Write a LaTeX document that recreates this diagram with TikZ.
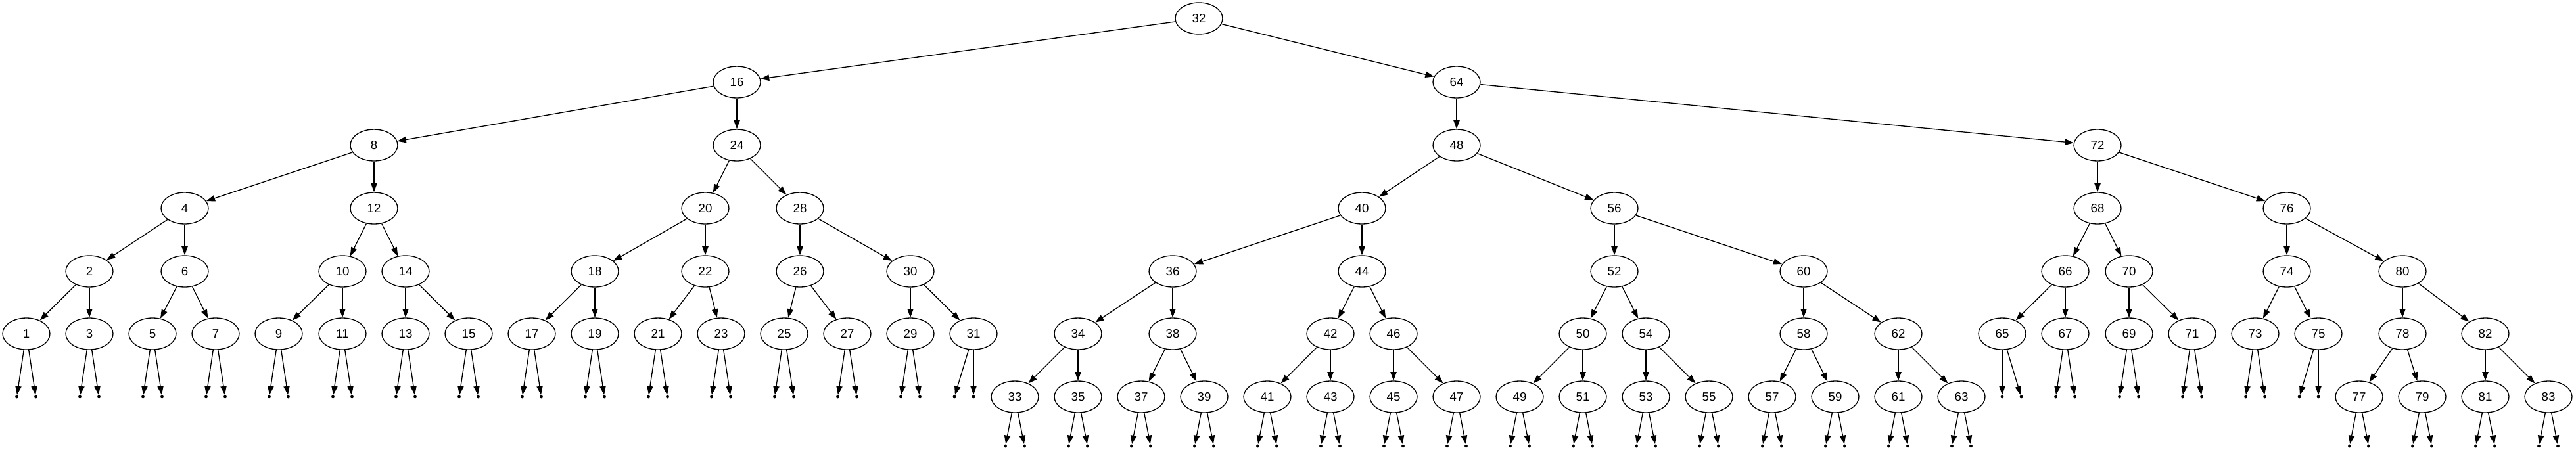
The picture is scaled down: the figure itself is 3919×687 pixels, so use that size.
\documentclass[tikz,border=0pt]{standalone}
\usepackage{fontspec}
\setmainfont{Liberation Sans}
\usepackage{tikz}
\usetikzlibrary{shapes.geometric,arrows.meta}

\begin{document}
\begin{tikzpicture}[x=0.75pt,y=-0.75pt,>={Triangle[length=10pt,width=7pt]},line width=1pt]
  \tikzstyle{key}=[ellipse,draw,minimum width=54pt,minimum height=36pt,
  inner sep=0pt,font=\fontsize{14pt}{16pt}\selectfont]
  \tikzstyle{null}=[circle,fill,inner sep=0pt,minimum size=3.6pt]
  \useasboundingbox (0,0) rectangle (3919,687);

  % keys, one rank per loop
  \foreach \k/\x in {32/1824}
    \node [key] (k\k) at (\x,28) {\k};
  \foreach \k/\x in {16/1121,64/2216}
    \node [key] (k\k) at (\x,125) {\k};
  \foreach \k/\x in {8/569,24/1121,48/2216,72/3191}
    \node [key] (k\k) at (\x,221) {\k};
  \foreach \k/\x in {4/281,12/569,20/1073,28/1217,40/2072,56/2456,68/3191,76/3479}
    \node [key] (k\k) at (\x,317) {\k};
  \foreach \k/\x in {2/136,6/281,10/521,14/617,18/905,22/1073,26/1217,30/1385,
    36/1784,44/2072,52/2456,60/2744,66/3142,70/3239,74/3479,80/3655}
    \node [key] (k\k) at (\x,413) {\k};
  \foreach \k/\x in {1/40,3/136,5/232,7/328,9/424,11/521,13/617,15/713,17/809,19/905,
    21/1001,23/1097,25/1193,27/1289,29/1385,31/1481,34/1640,38/1784,42/2024,46/2120,
    50/2408,54/2504,58/2744,62/2888,65/3046,67/3142,69/3239,71/3335,73/3431,75/3527,
    78/3655,82/3781}
    \node [key] (k\k) at (\x,508) {\k};
  \foreach \k/\x in {33/1544,35/1640,37/1736,39/1832,41/1928,43/2024,45/2120,47/2216,
    49/2312,51/2408,53/2504,55/2600,57/2696,59/2792,61/2888,63/2984,
    77/3589,79/3685,81/3781,83/3877}
    \node [key] (k\k) at (\x,604) {\k};

  % parent -> child
  \foreach \p/\c in {32/16,32/64,16/8,16/24,64/48,64/72,
    8/4,8/12,24/20,24/28,48/40,48/56,72/68,72/76,
    4/2,4/6,12/10,12/14,20/18,20/22,28/26,28/30,40/36,40/44,56/52,56/60,
    68/66,68/70,76/74,76/80,
    2/1,2/3,6/5,6/7,10/9,10/11,14/13,14/15,18/17,18/19,22/21,22/23,
    26/25,26/27,30/29,30/31,36/34,36/38,44/42,44/46,52/50,52/54,60/58,60/62,
    66/65,66/67,70/69,70/71,74/73,74/75,80/78,80/82,
    34/33,34/35,38/37,38/39,42/41,42/43,46/45,46/47,50/49,50/51,54/53,54/55,
    58/57,58/59,62/61,62/63,78/77,78/79,82/81,82/83}
    \draw [->] (k\p) to (k\c);

  % empty children as points
  \foreach \k/\l/\r/\d in {1/-14.5/14.5/96,3/-14.5/14.5/96,5/-14.5/14.5/96,
    7/-14.5/14.5/96,9/-14.5/14.5/96,11/-14.5/14.5/96,13/-14.5/14.5/96,
    15/-14.5/14.5/96,17/-14.5/14.5/96,19/-14.5/14.5/96,21/-14.5/14.5/96,
    23/-14.5/14.5/96,25/-14.5/14.5/96,27/-14.5/14.5/96,29/-14.5/14.5/96,
    31/-29/0/96,65/0/29/96,67/-14.5/14.5/96,69/-14.5/14.5/96,71/-14.5/14.5/96,
    73/-14.5/14.5/96,75/-29/0/96,
    33/-14.5/14.5/75,35/-14.5/14.5/75,37/-14.5/14.5/75,39/-14.5/14.5/75,
    41/-14.5/14.5/75,43/-14.5/14.5/75,45/-14.5/14.5/75,47/-14.5/14.5/75,
    49/-14.5/14.5/75,51/-14.5/14.5/75,53/-14.5/14.5/75,55/-14.5/14.5/75,
    57/-14.5/14.5/75,59/-14.5/14.5/75,61/-14.5/14.5/75,63/-14.5/14.5/75,
    77/-14.5/14.5/75,79/-14.5/14.5/75,81/-14.5/14.5/75,83/-14.5/14.5/75}{
    \path (k\k) ++(\l,\d) node [null] (nl\k) {};
    \path (k\k) ++(\r,\d) node [null] (nr\k) {};
    \draw [->] (k\k) to (nl\k);
    \draw [->] (k\k) to (nr\k);
  }
\end{tikzpicture}
\end{document}
